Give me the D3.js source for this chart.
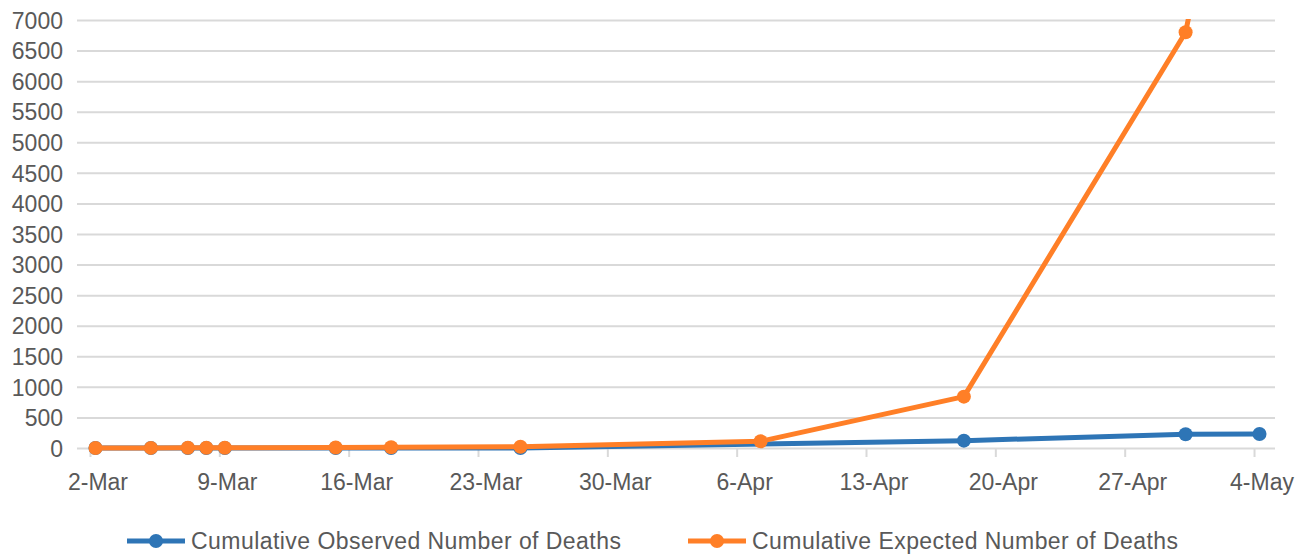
<!DOCTYPE html>
<html>
<head>
<meta charset="utf-8">
<script src="https://cdn.jsdelivr.net/npm/d3@7"></script>
<style>
  body { margin: 0; background: #fff; }
  text { font-family: "Liberation Sans", Arial, sans-serif; fill: #595959; }
</style>
</head>
<body>
<div id="chart-container"></div>
<script>
const observedDates = ["2020-03-02", "2020-03-05", "2020-03-07", "2020-03-08", "2020-03-09",
  "2020-03-15", "2020-03-18", "2020-03-25", "2020-04-18", "2020-04-30", "2020-05-04"];
const observedDeaths = [0, 0, 0, 0, 0, 0, 0, 0, 120, 225, 228];

const expectedDates = ["2020-03-02", "2020-03-05", "2020-03-07", "2020-03-08", "2020-03-09",
  "2020-03-15", "2020-03-18", "2020-03-25", "2020-04-07", "2020-04-18", "2020-04-30", "2020-05-04"];
const expectedDeaths = [1, 2, 3, 4, 5, 8, 12, 20, 110, 840, 6800, 12700];

const tickDates = ["2020-03-02", "2020-03-09", "2020-03-16", "2020-03-23", "2020-03-30",
  "2020-04-06", "2020-04-13", "2020-04-20", "2020-04-27", "2020-05-04"];
const yTicks = d3.range(0, 7001, 500);

const seriesNames = ["Cumulative Observed Number of Deaths", "Cumulative Expected Number of Deaths"];
const colors = ["#2e75b6", "#ff7f27"];

const parse = d3.timeParse("%Y-%m-%d");
const width = 1310;
const height = 555;
const margins = { top: 20, right: 32, bottom: 107, left: 77 };
const chartWidth = width - margins.left - margins.right;
const chartHeight = height - margins.top - margins.bottom;

const xScale = d3
  .scaleTime()
  .domain([parse("2020-03-01"), parse("2020-05-05")])
  .range([0, chartWidth]);

const yScale = d3
  .scaleLinear()
  .domain([0, 7000])
  .range([chartHeight, 0]);

const svg = d3
  .select("#chart-container")
  .append("svg")
  .attr("width", width)
  .attr("height", height);

svg.append("defs")
  .append("clipPath")
  .attr("id", "plot-clip")
  .append("rect")
  .attr("x", -10)
  .attr("y", -1)
  .attr("width", chartWidth + 20)
  .attr("height", chartHeight + 20);

const chart = svg
  .append("g")
  .attr("transform", `translate(${margins.left}, ${margins.top})`);

// horizontal gridlines + y labels
const yAxis = d3.axisLeft(yScale)
  .tickValues(yTicks)
  .tickSize(-(chartWidth - 3))
  .tickFormat(d3.format("d"));

chart.append("g")
  .call(yAxis)
  .call(g => g.select(".domain").remove())
  .call(g => g.selectAll(".tick line").attr("stroke", "#d9d9d9").attr("stroke-width", 2))
  .call(g => g.selectAll(".tick text")
    .attr("x", -14)
    .attr("dy", "0.36em")
    .style("font-size", "23px")
    .attr("fill", "#595959"));

// x axis labels
const xAxis = d3.axisBottom(xScale)
  .tickValues(tickDates.map(parse))
  .tickSize(0)
  .tickFormat(d3.timeFormat("%-d-%b"));

chart.append("g")
  .attr("transform", `translate(0, ${chartHeight})`)
  .call(xAxis)
  .call(g => g.select(".domain").remove())
  .call(g => g.selectAll(".tick text")
    .attr("y", 26)
    .attr("dy", "0.71em")
    .attr("dx", 2)
    .style("font-size", "23px")
    .attr("fill", "#595959"));

// tick marks sit a little left of the date
chart.append("g")
  .selectAll("line")
  .data(tickDates.map(parse))
  .enter()
  .append("line")
  .attr("x1", d => xScale(d) - 5)
  .attr("x2", d => xScale(d) - 5)
  .attr("y1", chartHeight)
  .attr("y2", chartHeight + 9)
  .attr("stroke", "#d9d9d9")
  .attr("stroke-width", 2);

const series = [
  { name: seriesNames[0], color: colors[0], points: observedDates.map((d, i) => ({ date: parse(d), value: observedDeaths[i] })) },
  { name: seriesNames[1], color: colors[1], points: expectedDates.map((d, i) => ({ date: parse(d), value: expectedDeaths[i] })) }
];

const line = d3.line()
  .x(d => xScale(d.date))
  .y(d => yScale(d.value));

const plot = chart.append("g").attr("clip-path", "url(#plot-clip)");

series.forEach(s => {
  plot.append("path")
    .datum(s.points)
    .attr("fill", "none")
    .attr("stroke", s.color)
    .attr("stroke-width", 5)
    .attr("stroke-linejoin", "round")
    .attr("d", line);

  plot.selectAll(null)
    .data(s.points)
    .enter()
    .append("circle")
    .attr("cx", d => xScale(d.date))
    .attr("cy", d => yScale(d.value))
    .attr("r", 7)
    .attr("fill", s.color);
});

// legend
const legendY = 541;
const legendX = [127, 688];
const legend = svg.append("g");
series.forEach((s, i) => {
  const g = legend.append("g").attr("transform", `translate(${legendX[i]}, ${legendY})`);
  g.append("line")
    .attr("x1", 0).attr("x2", 58)
    .attr("stroke", s.color)
    .attr("stroke-width", 5);
  g.append("circle")
    .attr("cx", 29)
    .attr("r", 7)
    .attr("fill", s.color);
  g.append("text")
    .attr("x", 64)
    .attr("dy", "0.36em")
    .style("font-size", "23px")
    .style("letter-spacing", "0.45px")
    .text(s.name);
});
</script>
</body>
</html>
